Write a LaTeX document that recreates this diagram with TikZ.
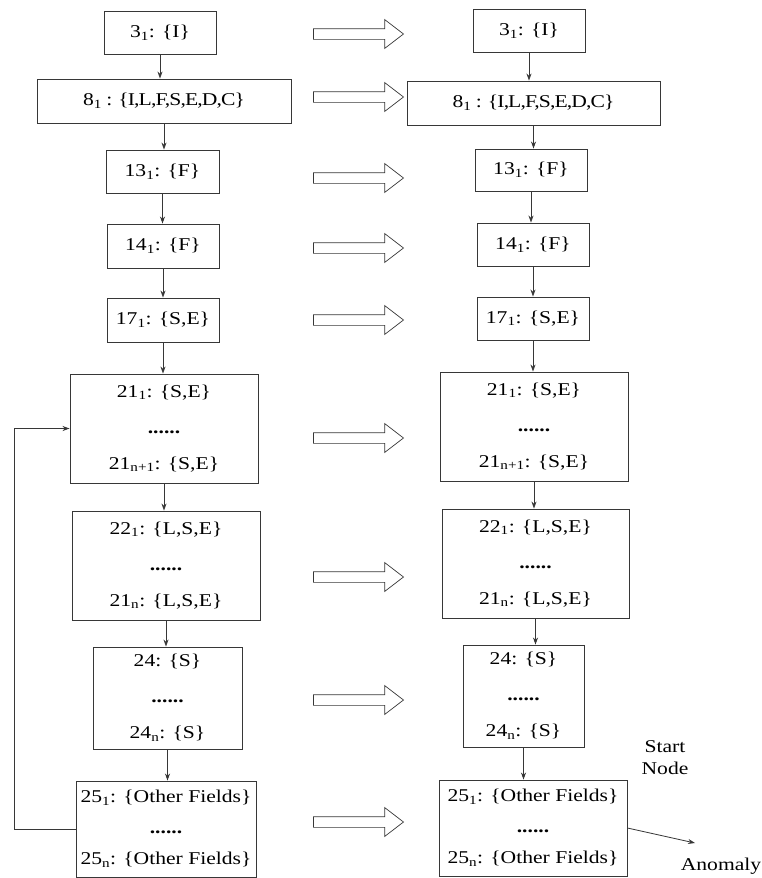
\documentclass[tikz,border=0pt]{standalone}
\usepackage{fontspec}
\setmainfont{Liberation Serif}[FakeStretch=1.2]
\usetikzlibrary{arrows.meta,shapes.arrows}
\definecolor{boxline}{RGB}{55,55,55}
\tikzset{
  flow/.style={x=1pt,y=-1pt,font=\fontsize{18}{36}\selectfont},
  fbox/.style={draw=boxline,line width=0.9pt,inner sep=0pt,align=center},
  tight/.style={font=\fontsize{18}{36}\selectfont\addfontfeatures{LetterSpace=-5}},
  sz/.style 2 args={minimum width=#1pt,minimum height=#2pt},
  blockarr/.style={draw=boxline,line width=0.7pt,single arrow,minimum height=90pt,
    minimum width=28pt,inner sep=5pt,single arrow head extend=9pt,single arrow tip angle=75},
  link/.style={-{Stealth[length=7pt,width=5pt]},line width=0.8pt,draw=boxline},
  plain/.style={align=center}
}
\newcommand{\dotsrow}{\textbf{......}}

\begin{document}
\begin{tikzpicture}[flow]
    \useasboundingbox (0,0) rectangle (761,878);
    % left column
    \node[fbox,sz={112}{43}] (l1) at (160,32.5) {3\textsubscript{1}: \{I\}};
    \node[fbox,tight,sz={254}{44}] (l2) at (164,101) {8\textsubscript{1} : \{I,L,F,S,E,D,C\}};
    \node[fbox,sz={113}{43}] (l3) at (162.5,171.5) {13\textsubscript{1}: \{F\}};
    \node[fbox,sz={112}{44}] (l4) at (163,246) {14\textsubscript{1}: \{F\}};
    \node[fbox,sz={112}{44}] (l5) at (163,320) {17\textsubscript{1}: \{S,E\}};
    \node[fbox,sz={188}{109}] (l6) at (164,428.5) {21\textsubscript{1}: \{S,E\}\\\dotsrow\\21\textsubscript{n+1}: \{S,E\}};
    \node[fbox,sz={188}{109}] (l7) at (166,565.5) {22\textsubscript{1}: \{L,S,E\}\\\dotsrow\\21\textsubscript{n}: \{L,S,E\}};
    \node[fbox,sz={149}{102}] (l8) at (167.5,698) {24: \{S\}\\\dotsrow\\24\textsubscript{n}: \{S\}};
    \node[fbox,sz={180}{96},font=\fontsize{18}{31}\selectfont] (l9) at (166,829) {25\textsubscript{1}: \{Other Fields\}\\\dotsrow\\25\textsubscript{n}: \{Other Fields\}};
    % right column
    \node[fbox,sz={112}{43}] (r1) at (529,30.5) {3\textsubscript{1}: \{I\}};
    \node[fbox,tight,sz={253}{44}] (r2) at (533.5,103) {8\textsubscript{1} : \{I,L,F,S,E,D,C\}};
    \node[fbox,sz={112}{42}] (r3) at (531,170) {13\textsubscript{1}: \{F\}};
    \node[fbox,sz={112}{43}] (r4) at (533,244.5) {14\textsubscript{1}: \{F\}};
    \node[fbox,sz={112}{43}] (r5) at (533,318.5) {17\textsubscript{1}: \{S,E\}};
    \node[fbox,sz={188}{109}] (r6) at (534,426.5) {21\textsubscript{1}: \{S,E\}\\\dotsrow\\21\textsubscript{n+1}: \{S,E\}};
    \node[fbox,sz={187}{109}] (r7) at (535.5,563.5) {22\textsubscript{1}: \{L,S,E\}\\\dotsrow\\21\textsubscript{n}: \{L,S,E\}};
    \node[fbox,sz={121}{102}] (r8) at (523.5,696) {24: \{S\}\\\dotsrow\\24\textsubscript{n}: \{S\}};
    \node[fbox,sz={188}{96},font=\fontsize{18}{31}\selectfont] (r9) at (533,828) {25\textsubscript{1}: \{Other Fields\}\\\dotsrow\\25\textsubscript{n}: \{Other Fields\}};
    % block arrows
    \foreach \y [count=\i] in {34,97,178,248,320,438,577,700,822}
      \node[blockarr] (ba\i) at (355,\y) {};
    % links down each column
    \foreach \a/\b in {1/2,2/3,3/4,4/5,5/6,6/7,7/8,8/9} {
      \draw[link] (l\a.south) -- (l\a.south |- l\b.north);
      \draw[link] (r\a.south) -- (r\a.south |- r\b.north);
    }
    % feedback loop
    \coordinate (loopx) at (14,0);
    \draw[link] (l9.west) -- (l9.west -| loopx) |- (l6.west);
    % start and anomaly
    \node[plain] (start) at (665,758) {Start\\[-14pt]Node};
    \coordinate (anom) at (695,843);
    \draw[link] (r9.east) -- (anom);
    \node[plain] (anomaly) at (721,866) {Anomaly};
\end{tikzpicture}
\end{document}
